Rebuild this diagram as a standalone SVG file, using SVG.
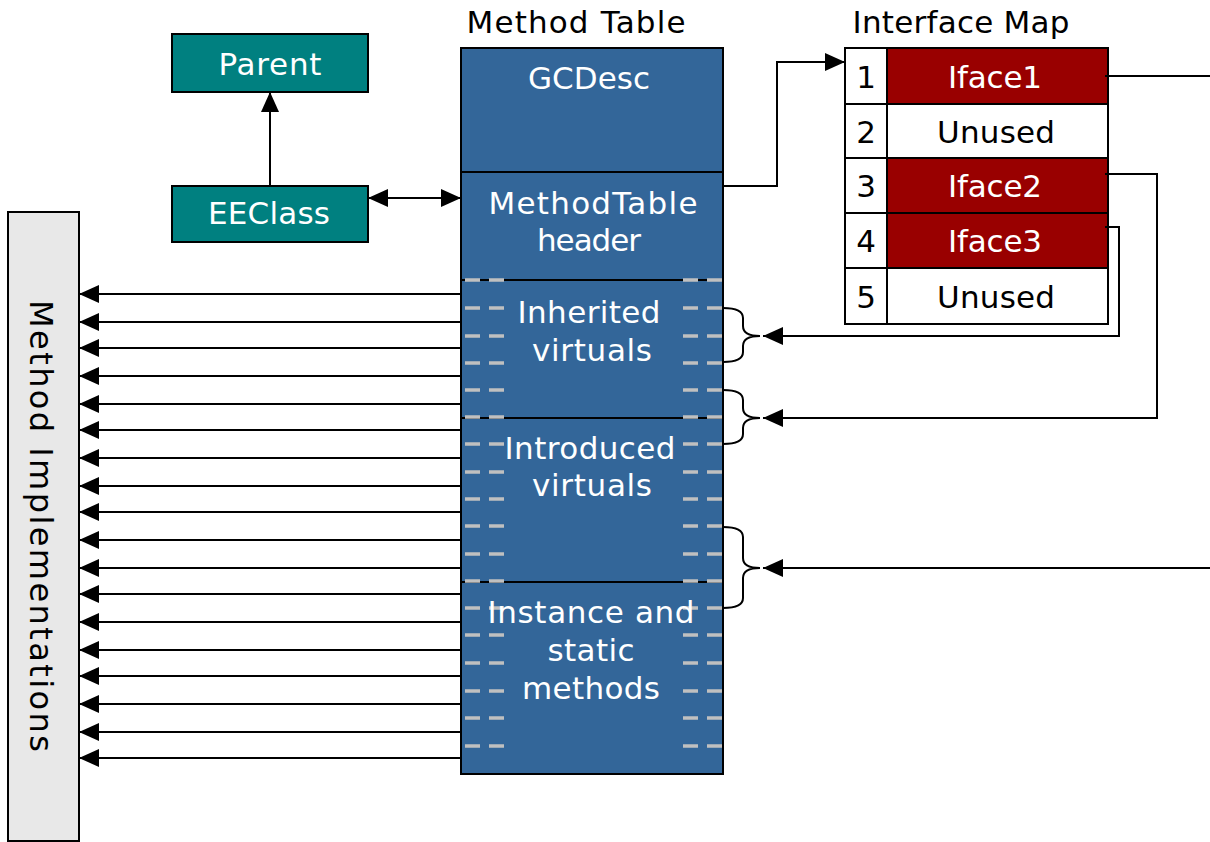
<svg xmlns="http://www.w3.org/2000/svg" width="1210" height="842" viewBox="0 0 1210 842">
<style>
text{font-family:"DejaVu Sans","Verdana",sans-serif;font-size:31px;text-anchor:middle}
.w{fill:#fff}
.k{fill:#000}
.box{stroke:#000;stroke-width:2}
.teal{fill:#008080}
.blue{fill:#336699}
.red{fill:#990000}
.wh{fill:#fff}
.div{stroke:#000;stroke-width:2}
.dash{stroke:#c0c0c0;stroke-width:3.5;fill:none}
.con{stroke:#000;stroke-width:2;fill:none}
.arr{marker-end:url(#ah)}
</style>
<defs>
<marker id="ah" markerUnits="userSpaceOnUse" markerWidth="20" markerHeight="18" viewBox="0 0 20 18" refX="20" refY="9" orient="auto-start-reverse">
<path d="M0,0 L20,9 L0,18 z" fill="#000"/>
</marker>
</defs>

<g id="title-mt"><text class="k" x="576" y="33" textLength="219" lengthAdjust="spacing">Method Table</text></g>
<g id="title-im"><text class="k" x="961" y="33" textLength="217" lengthAdjust="spacing">Interface Map</text></g>

<g id="method-impl">
<rect class="box" x="8" y="212" width="71" height="629" fill="#e8e8e8"/>
<text class="k" transform="translate(30,526) rotate(90)" style="font-size:32px" textLength="452" lengthAdjust="spacing">Method Implementations</text>
</g>

<g id="parent">
<rect class="box teal" x="172" y="34" width="196" height="58"/>
<text class="w" x="270" y="75" textLength="103" lengthAdjust="spacing">Parent</text>
</g>
<g id="eeclass">
<rect class="box teal" x="172" y="186" width="196" height="56"/>
<text class="w" x="269" y="224" textLength="122" lengthAdjust="spacing">EEClass</text>
</g>

<g id="method-table">
<rect class="box blue" x="461" y="48" width="262" height="726"/>
<line class="div" x1="461" y1="172" x2="723" y2="172"/>
<line class="div" x1="461" y1="280" x2="723" y2="280"/>
<line class="div" x1="461" y1="418" x2="723" y2="418"/>
<line class="div" x1="461" y1="582" x2="723" y2="582"/>
<path class="dash" d="M465,280h15M489,280h15M683,280h15M707,280h15
M465,308h15M489,308h15M683,308h15M707,308h15
M465,336h15M489,336h15M683,336h15M707,336h15
M465,363h15M489,363h15M683,363h15M707,363h15
M465,390h15M489,390h15M683,390h15M707,390h15
M465,417h15M489,417h15M683,417h15M707,417h15
M465,444h15M489,444h15M683,444h15M707,444h15
M465,472h15M489,472h15M683,472h15M707,472h15
M465,499h15M489,499h15M683,499h15M707,499h15
M465,526h15M489,526h15M683,526h15M707,526h15
M465,554h15M489,554h15M683,554h15M707,554h15
M465,581h15M489,581h15M683,581h15M707,581h15
M465,608h15M489,608h15M683,608h15M707,608h15
M465,635h15M489,635h15M683,635h15M707,635h15
M465,663h15M489,663h15M683,663h15M707,663h15
M465,691h15M489,691h15M683,691h15M707,691h15
M465,718h15M489,718h15M683,718h15M707,718h15
M465,746h15M489,746h15M683,746h15M707,746h15"/>
<text class="w" x="589" y="89" textLength="122" lengthAdjust="spacing">GCDesc</text>
<text class="w" x="593" y="214" textLength="209" lengthAdjust="spacing">MethodTable</text>
<text class="w" x="589" y="251" textLength="104" lengthAdjust="spacing">header</text>
<text class="w" x="589" y="323" textLength="143" lengthAdjust="spacing">Inherited</text>
<text class="w" x="592" y="361" textLength="120" lengthAdjust="spacing">virtuals</text>
<text class="w" x="590" y="459" textLength="171" lengthAdjust="spacing">Introduced</text>
<text class="w" x="592" y="496" textLength="120" lengthAdjust="spacing">virtuals</text>
<text class="w" x="591" y="623" textLength="207" lengthAdjust="spacing">Instance and</text>
<text class="w" x="591" y="661" textLength="87" lengthAdjust="spacing">static</text>
<text class="w" x="591" y="699" textLength="138" lengthAdjust="spacing">methods</text>
</g>

<g id="interface-map">
<rect class="box wh" x="845" y="48" width="42" height="56"/>
<rect class="box red" x="887" y="48" width="221" height="56"/>
<rect class="box wh" x="845" y="104" width="42" height="54"/>
<rect class="box wh" x="887" y="104" width="221" height="54"/>
<rect class="box wh" x="845" y="158" width="42" height="55"/>
<rect class="box red" x="887" y="158" width="221" height="55"/>
<rect class="box wh" x="845" y="213" width="42" height="55"/>
<rect class="box red" x="887" y="213" width="221" height="55"/>
<rect class="box wh" x="845" y="268" width="42" height="56"/>
<rect class="box wh" x="887" y="268" width="221" height="56"/>
<text class="k" x="866" y="88">1</text>
<text class="k" x="866" y="143">2</text>
<text class="k" x="866" y="197">3</text>
<text class="k" x="866" y="252">4</text>
<text class="k" x="866" y="308">5</text>
<text class="w" x="995" y="88" textLength="94" lengthAdjust="spacing">Iface1</text>
<text class="k" x="996" y="143" textLength="118" lengthAdjust="spacing">Unused</text>
<text class="w" x="995" y="197" textLength="94" lengthAdjust="spacing">Iface2</text>
<text class="w" x="995" y="252" textLength="94" lengthAdjust="spacing">Iface3</text>
<text class="k" x="996" y="308" textLength="118" lengthAdjust="spacing">Unused</text>
</g>

<g id="connectors">
<line class="con arr" x1="270" y1="186" x2="270" y2="92"/>
<line class="con" x1="368" y1="198" x2="461" y2="198" marker-start="url(#ah)" marker-end="url(#ah)"/>
<polyline class="con arr" points="723,186 777,186 777,62 845,62"/>
<line class="con" x1="1105" y1="76" x2="1210" y2="76"/>
<polyline class="con arr" points="1105,174 1157,174 1157,418 763,418"/>
<polyline class="con arr" points="1105,227 1119,227 1119,336 763,336"/>
<line class="con arr" x1="1210" y1="568" x2="763" y2="568"/>
<path class="con" d="M723,308 Q743,308 743,318 L743,326 Q743,336 760,336 M723,362 Q743,362 743,352 L743,346 Q743,336 760,336"/>
<path class="con" d="M723,390 Q743,390 743,400 L743,408 Q743,418 760,418 M723,444 Q743,444 743,434 L743,428 Q743,418 760,418"/>
<path class="con" d="M723,527 Q743,527 743,537 L743,558 Q743,568 760,568 M723,608 Q743,608 743,598 L743,578 Q743,568 760,568"/>
<g class="con">
<line class="arr" x1="461" y1="294" x2="79" y2="294"/>
<line class="arr" x1="461" y1="322" x2="79" y2="322"/>
<line class="arr" x1="461" y1="348" x2="79" y2="348"/>
<line class="arr" x1="461" y1="376" x2="79" y2="376"/>
<line class="arr" x1="461" y1="404" x2="79" y2="404"/>
<line class="arr" x1="461" y1="430" x2="79" y2="430"/>
<line class="arr" x1="461" y1="458" x2="79" y2="458"/>
<line class="arr" x1="461" y1="486" x2="79" y2="486"/>
<line class="arr" x1="461" y1="512" x2="79" y2="512"/>
<line class="arr" x1="461" y1="540" x2="79" y2="540"/>
<line class="arr" x1="461" y1="568" x2="79" y2="568"/>
<line class="arr" x1="461" y1="594" x2="79" y2="594"/>
<line class="arr" x1="461" y1="622" x2="79" y2="622"/>
<line class="arr" x1="461" y1="650" x2="79" y2="650"/>
<line class="arr" x1="461" y1="676" x2="79" y2="676"/>
<line class="arr" x1="461" y1="704" x2="79" y2="704"/>
<line class="arr" x1="461" y1="732" x2="79" y2="732"/>
<line class="arr" x1="461" y1="758" x2="79" y2="758"/>
</g>
</g>
</svg>
